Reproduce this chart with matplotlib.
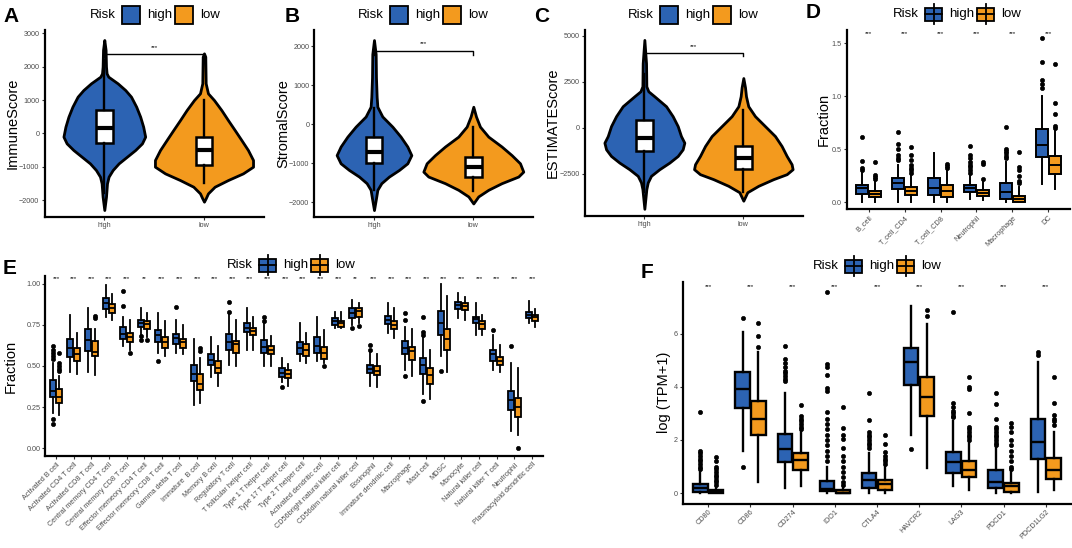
import numpy as np
import matplotlib
matplotlib.use("Agg")
from matplotlib import pyplot as plt
from matplotlib.patches import Rectangle

plt.rcParams['font.family'] = ['Liberation Sans', 'DejaVu Sans']

W, H = 1072, 548
BLUE = '#2C63B3'
ORANGE = '#F39A1E'
groups = ['high', 'low']

# ---- panel A-C: violin outlines (value, half width in category units) ----
immune_high_y = [2800, 2500, 2000, 1800, 1700, 1500, 1300, 1100, 800, 500, 200, -100, -300, -500, -700, -900, -1100, -1300, -1500, -1900, -2300]
immune_high_w = [0, .013, .017, .023, .04, .134, .21, .268, .32, .36, .39, .41, .378, .31, .227, .144, .084, .043, .027, .017, 0]
immune_low_y = [2400, 2300, 1500, 1200, 1000, 700, 400, 100, -200, -500, -800, -1000, -1200, -1400, -1600, -1800, -1950, -2050]
immune_low_w = [0, .013, .017, .04, .1, .174, .24, .308, .375, .441, .492, .492, .391, .241, .107, .04, .017, 0]
immune_box = dict(q1=[-300, -950], med=[150, -500], q3=[700, -100], lo=[-1800, -1500], hi=[2200, 1000])

stromal_high_y = [2160, 1800, 1200, 700, 450, 200, -60, -316, -570, -790, -1000, -1170, -1340, -1510, -1680, -1900, -2200]
stromal_high_w = [0, .017, .02, .027, .034, .084, .185, .268, .336, .376, .336, .252, .151, .074, .034, .02, 0]
stromal_low_y = [450, 200, -60, -316, -570, -790, -1000, -1214, -1340, -1510, -1680, -1850, -2030]
stromal_low_w = [0, .027, .067, .151, .285, .386, .47, .503, .453, .285, .151, .05, 0]
stromal_box = dict(q1=[-1000, -1340], med=[-700, -1100], q3=[-316, -830], lo=[-1680, -1700], hi=[410, -60])

estimate_high_y = [4770, 3500, 2250, 1980, 1710, 1170, 630, 90, -450, -810, -1170, -1530, -1890, -2250, -2610, -2970, -3330, -4400]
estimate_high_w = [0, .017, .02, .04, .101, .219, .286, .337, .37, .404, .387, .337, .253, .152, .067, .034, .02, 0]
estimate_low_y = [2700, 2200, 1710, 1170, 630, 90, -450, -990, -1530, -1980, -2250, -2520, -2790, -3150, -3500, -3960]
estimate_low_w = [0, .017, .027, .05, .118, .219, .32, .387, .438, .488, .498, .438, .303, .152, .04, 0]
estimate_box = dict(q1=[-1277, -2250], med=[-576, -1620], q3=[414, -970], lo=[-3500, -3500], hi=[2900, 950])

# ---- panel D ----
d_cats = ['B_cell', 'T_cell_CD4', 'T_cell_CD8', 'Neutrophil', 'Macrophage', 'DC']
d_high_q1 = [0.075, 0.12, 0.07, 0.10, 0.03, 0.43]
d_high_med = [0.137, 0.18, 0.13, 0.13, 0.10, 0.54]
d_high_q3 = [0.163, 0.23, 0.23, 0.165, 0.18, 0.69]
d_high_lo = [0.0, 0.0, 0.0, 0.03, 0.0, 0.17]
d_high_hi = [0.28, 0.35, 0.46, 0.26, 0.38, 1.0]
d_high_out = [[0.62, 0.39, 0.32, 0.30], [0.66, 0.55, 0.50, 0.45, 0.42, 0.40], [],
              [0.53, 0.45, 0.42, 0.38, 0.35, 0.33, 0.30, 0.28], [0.71, 0.50, 0.48, 0.46, 0.44, 0.42],
              [1.55, 1.32, 1.15, 1.12, 1.08]]
d_low_q1 = [0.05, 0.072, 0.05, 0.055, 0.0, 0.27]
d_low_med = [0.075, 0.105, 0.105, 0.09, 0.035, 0.35]
d_low_q3 = [0.11, 0.147, 0.165, 0.115, 0.06, 0.44]
d_low_lo = [0.0, 0.0, 0.0, 0.02, 0.0, 0.12]
d_low_hi = [0.20, 0.25, 0.30, 0.20, 0.14, 0.68]
d_low_out = [[0.38, 0.26, 0.24, 0.22], [0.52, 0.45, 0.40, 0.35, 0.32, 0.30, 0.28], [0.36, 0.34, 0.32],
             [0.38, 0.36, 0.22], [0.47, 0.33, 0.30, 0.25, 0.20, 0.18], [1.30, 0.94, 0.83, 0.72, 0.70]]
d_sig = ['***'] * 6

# ---- panel E ----
e_cats = ['Activated B cell', 'Activated CD4 T cell', 'Activated CD8 T cell', 'Central memory CD4 T cell',
          'Central memory CD8 T cell', 'Effector memeory CD4 T cell', 'Effector memeory CD8 T cell',
          'Gamma delta T cell', 'Immature  B cell', 'Memory B cell', 'Regulatory T cell',
          'T follicular helper cell', 'Type 1 T helper cell', 'Type 17 T helper cell', 'Type 2 T helper cell',
          'Activated dendritic cell', 'CD56bright natural killer cell', 'CD56dim natural killer cell',
          'Eosinophil', 'Immature dendritic cell', 'Macrophage', 'Mast cell', 'MDSC', 'Monocyte',
          'Natural killer cell', 'Natural killer T cell', 'Neutrophil', 'Plasmacytoid dendritic cell']
e_sig = ['***'] * 5 + ['**'] + ['***'] * 11 + ['**'] + ['***'] * 10
e_high_q1 = [0.314, 0.553, 0.591, 0.843, 0.665, 0.734, 0.644, 0.633, 0.407, 0.507, 0.600, 0.707, 0.580, 0.435,
             0.570, 0.580, 0.750, 0.790, 0.455, 0.755, 0.570, 0.449, 0.686, 0.847, 0.759, 0.532, 0.235, 0.790]
e_high_med = [0.350, 0.608, 0.660, 0.885, 0.696, 0.759, 0.686, 0.669, 0.449, 0.539, 0.644, 0.730, 0.613, 0.460,
              0.607, 0.623, 0.770, 0.822, 0.480, 0.780, 0.608, 0.507, 0.759, 0.870, 0.784, 0.570, 0.293, 0.807]
e_high_q3 = [0.413, 0.665, 0.727, 0.910, 0.738, 0.780, 0.721, 0.692, 0.507, 0.574, 0.696, 0.760, 0.655, 0.487,
             0.645, 0.675, 0.790, 0.853, 0.507, 0.805, 0.654, 0.549, 0.832, 0.889, 0.800, 0.595, 0.350, 0.826]
e_high_lo = [0.214, 0.465, 0.465, 0.800, 0.623, 0.686, 0.580, 0.580, 0.266, 0.434, 0.507, 0.600, 0.500, 0.400,
             0.530, 0.530, 0.730, 0.750, 0.380, 0.700, 0.476, 0.330, 0.560, 0.790, 0.690, 0.476, 0.105, 0.759]
e_high_hi = [0.520, 0.811, 0.850, 0.990, 0.800, 0.853, 0.820, 0.780, 0.665, 0.675, 0.820, 0.850, 0.760, 0.550,
             0.760, 0.800, 0.830, 0.900, 0.590, 0.885, 0.738, 0.675, 1.000, 0.943, 0.885, 0.686, 0.518, 0.895]
e_high_out = [[0.62, 0.60, 0.58, 0.56, 0.54, 0.18, 0.15], [], [], [], [0.958, 0.864], [0.68, 0.66], [0.532],
              [0.86], [], [], [0.89, 0.83], [], [0.80, 0.77], [0.37], [], [], [], [0.73], [0.63, 0.60], [],
              [0.82, 0.78, 0.438], [0.797, 0.706, 0.686, 0.287], [0.47], [], [], [0.72], [0.62], []]
e_low_q1 = [0.277, 0.528, 0.560, 0.822, 0.644, 0.727, 0.608, 0.612, 0.356, 0.455, 0.580, 0.686, 0.570, 0.425,
            0.560, 0.540, 0.734, 0.800, 0.444, 0.727, 0.535, 0.392, 0.597, 0.838, 0.727, 0.507, 0.189, 0.776]
e_low_med = [0.310, 0.574, 0.587, 0.850, 0.675, 0.753, 0.644, 0.644, 0.392, 0.490, 0.633, 0.710, 0.600, 0.450,
             0.600, 0.580, 0.760, 0.833, 0.470, 0.748, 0.590, 0.444, 0.665, 0.864, 0.755, 0.532, 0.250, 0.795]
e_low_q3 = [0.360, 0.608, 0.654, 0.874, 0.700, 0.774, 0.675, 0.665, 0.449, 0.532, 0.654, 0.728, 0.620, 0.477,
            0.634, 0.613, 0.776, 0.853, 0.497, 0.774, 0.616, 0.486, 0.727, 0.880, 0.775, 0.553, 0.308, 0.811]
e_low_lo = [0.200, 0.450, 0.444, 0.780, 0.600, 0.675, 0.560, 0.570, 0.277, 0.380, 0.497, 0.600, 0.500, 0.380,
            0.520, 0.520, 0.730, 0.760, 0.370, 0.669, 0.440, 0.300, 0.465, 0.780, 0.686, 0.465, 0.084, 0.738]
e_low_hi = [0.440, 0.700, 0.727, 0.937, 0.780, 0.820, 0.770, 0.748, 0.550, 0.623, 0.780, 0.800, 0.680, 0.510,
            0.700, 0.720, 0.830, 0.880, 0.570, 0.853, 0.727, 0.600, 0.927, 0.920, 0.810, 0.627, 0.486, 0.843]
e_low_out = [[0.58, 0.52, 0.50, 0.48, 0.47], [], [0.805, 0.79], [], [0.58], [0.66], [], [], [0.61, 0.59], [], [],
             [], [], [], [], [0.50], [], [0.74], [], [], [], [], [], [], [], [], [0.0], []]

# ---- panel F ----
f_cats = ['CD80', 'CD86', 'CD274', 'IDO1', 'CTLA4', 'HAVCR2', 'LAG3', 'PDCD1', 'PDCD1LG2']
f_sig = ['***'] * 9
f_high_q1 = [0.03, 3.22, 1.17, 0.09, 0.20, 4.05, 0.77, 0.20, 1.28]
f_high_med = [0.20, 3.92, 1.66, 0.15, 0.50, 4.93, 1.17, 0.42, 1.94]
f_high_q3 = [0.35, 4.56, 2.23, 0.47, 0.75, 5.45, 1.56, 0.86, 2.80]
f_high_lo = [0.0, 1.60, 0.20, 0.0, 0.0, 2.20, 0.25, 0.0, 0.05]
f_high_hi = [0.80, 6.05, 3.75, 1.00, 1.50, 7.05, 2.70, 1.70, 4.95]
f_high_out = [[3.05, 1.6, 1.5, 1.4, 1.3, 1.2, 1.1, 1.0, 0.9], [6.6, 1.0],
              [5.55, 5.05, 4.9, 4.75, 4.6, 4.5, 4.4, 4.3, 4.2],
              [7.55, 4.85, 4.75, 4.45, 3.95, 3.85, 3.05, 2.8, 2.6, 2.4, 2.2, 2.0, 1.8, 1.6, 1.4, 1.2],
              [3.75, 2.75, 2.3, 2.2, 2.1, 2.0, 1.9, 1.8, 1.7], [1.65], [6.8, 3.4, 3.25, 3.1, 3.0, 2.9, 2.85],
              [3.75, 3.35, 2.8, 2.5, 2.4, 2.3, 2.2, 2.1, 2.0, 1.9, 1.8], [5.3, 5.2]]
f_low_q1 = [0.0, 2.17, 0.86, 0.0, 0.10, 2.90, 0.60, 0.06, 0.54]
f_low_med = [0.03, 2.80, 1.24, 0.02, 0.35, 3.60, 0.86, 0.26, 0.86]
f_low_q3 = [0.10, 3.45, 1.50, 0.10, 0.48, 4.37, 1.20, 0.37, 1.33]
f_low_lo = [0.0, 0.43, 0.25, 0.0, 0.0, 0.95, 0.10, 0.0, 0.13]
f_low_hi = [0.25, 5.30, 2.30, 0.25, 1.00, 6.35, 1.90, 0.80, 2.30]
f_low_out = [[1.35, 1.2, 1.0, 0.9, 0.8, 0.7, 0.6, 0.5, 0.4, 0.3], [6.4, 5.9, 5.5], [3.3, 2.9, 2.8, 2.7, 2.6, 2.5, 2.4],
             [3.25, 2.45, 2.2, 2.05, 1.7, 1.4, 1.2, 1.0, 0.8, 0.6, 0.4, 0.3], [2.2, 1.85, 1.55, 1.4, 1.3, 1.2, 1.1],
             [6.9, 6.65], [4.35, 4.0, 3.9, 3.0, 2.5, 2.4, 2.3, 2.2, 2.1, 2.0],
             [2.65, 2.5, 2.3, 2.0, 1.8, 1.6, 1.4, 1.2, 1.0, 0.9], [4.35, 3.4, 2.95, 2.8, 2.7, 2.55]]


fig = plt.figure(figsize=(W / 100, H / 100), dpi=100)


def add_ax(l, t, r, b):
    return fig.add_axes([l / W, 1 - b / H, (r - l) / W, (b - t) / H])


def style(ax, ylabel, label_x, l, r, size=10.5):
    for s in ['top', 'right']:
        ax.spines[s].set_visible(False)
    for s in ['left', 'bottom']:
        ax.spines[s].set_linewidth(1.6)
    ax.tick_params(length=2.2, width=0.8, color='#333333', labelsize=5.2, labelcolor='#4d4d4d', pad=1.5)
    ax.set_ylabel(ylabel, fontsize=size)
    ax.yaxis.label.set_verticalalignment('center')
    ax.yaxis.set_label_coords((label_x - l) / (r - l), 0.5)


def make_stats(q1, med, q3, lo, hi, out=None):
    return [dict(q1=q1[i], med=med[i], q3=q3[i], whislo=lo[i], whishi=hi[i],
                 fliers=(out[i] if out else [])) for i in range(len(q1))]


def violin_panel(rect, profiles, box, ylim, ticks, ylabel, label_x, bracket):
    ax = add_ax(*rect)
    for i, (ys, ws) in enumerate(profiles):
        ys = np.array(ys)
        ws = np.array(ws)
        ax.fill_betweenx(ys, i + 1 - ws, i + 1 + ws, facecolor=[BLUE, ORANGE][i],
                         edgecolor='black', linewidth=2.0, zorder=2)
    stats = make_stats(box['q1'], box['med'], box['q3'], box['lo'], box['hi'])
    ax.bxp(stats, positions=[1, 2], widths=0.17, patch_artist=True, showcaps=False, showfliers=False,
           manage_ticks=False, zorder=3,
           boxprops=dict(facecolor='white', edgecolor='black', linewidth=1.8),
           medianprops=dict(color='black', linewidth=3),
           whiskerprops=dict(color='black', linewidth=1.7))
    top, tip, star = bracket
    ax.plot([1, 1, 2, 2], [tip, top, top, tip], color='black', linewidth=1.0, zorder=4)
    ax.text(1.5, star, '***', ha='center', va='center', fontsize=4.5)
    ax.set_xlim(0.4, 2.6)
    ax.set_ylim(*ylim)
    ax.set_xticks([1, 2])
    ax.set_xticklabels(groups)
    ax.set_yticks(ticks)
    style(ax, ylabel, label_x, rect[0], rect[2])
    return ax


def box_panel(rect, cats, hs, ls, ylim, ticks, ticklabels, ylabel, label_x, sig, sig_y, lw, xsize):
    ax = add_ax(*rect)
    x = np.arange(len(cats)) + 1
    for stats, off, col in [(hs, -0.1875, BLUE), (ls, 0.1875, ORANGE)]:
        ax.bxp(stats, positions=x + off, widths=0.34, patch_artist=True, showcaps=False, manage_ticks=False,
               boxprops=dict(facecolor=col, edgecolor='black', linewidth=lw),
               medianprops=dict(color='black', linewidth=lw),
               whiskerprops=dict(color='black', linewidth=lw),
               flierprops=dict(marker='o', markerfacecolor='black', markeredgecolor='black',
                               markersize=3.0, markeredgewidth=0.5))
    for xi, s in zip(x, sig):
        ax.text(xi, sig_y, s, ha='center', va='center', fontsize=4.5)
    ax.set_xlim(0.4, len(cats) + 0.6)
    ax.set_ylim(*ylim)
    ax.set_xticks(x)
    ax.set_xticklabels(cats, rotation=45, ha='right', va='top', rotation_mode='anchor', fontsize=xsize)
    ax.set_yticks(ticks)
    ax.set_yticklabels(ticklabels)
    style(ax, ylabel, label_x, rect[0], rect[2])
    return ax


violin_panel((44.5, 30, 263.8, 216.7),
             [(immune_high_y, immune_high_w), (immune_low_y, immune_low_w)], immune_box,
             (-2500, 3100), [-2000, -1000, 0, 1000, 2000, 3000], 'ImmuneScore', 13, (2380, 2300, 2560))
violin_panel((314.4, 30, 532.9, 217),
             [(stromal_high_y, stromal_high_w), (stromal_low_y, stromal_low_w)], stromal_box,
             (-2377, 2418), [-2000, -1000, 0, 1000, 2000], 'StromalScore', 283, (1890, 1780, 2060))
violin_panel((585, 30, 802.7, 216),
             [(estimate_high_y, estimate_high_w), (estimate_low_y, estimate_low_w)], estimate_box,
             (-4790, 5308), [-2500, 0, 2500, 5000], 'ESTIMATEScore', 553, (4080, 3870, 4420))

box_panel((847, 30, 1070, 209), d_cats,
          make_stats(d_high_q1, d_high_med, d_high_q3, d_high_lo, d_high_hi, d_high_out),
          make_stats(d_low_q1, d_low_med, d_low_q3, d_low_lo, d_low_hi, d_low_out),
          (-0.064, 1.625), [0, 0.5, 1.0, 1.5], ['0.0', '0.5', '1.0', '1.5'], 'Fraction', 824,
          d_sig, 1.59, 1.4, 5.4)
box_panel((45.4, 276, 542.6, 456), e_cats,
          make_stats(e_high_q1, e_high_med, e_high_q3, e_high_lo, e_high_hi, e_high_out),
          make_stats(e_low_q1, e_low_med, e_low_q3, e_low_lo, e_low_hi, e_low_out),
          (-0.046, 1.046), [0, 0.25, 0.5, 0.75, 1.0], ['0.00', '0.25', '0.50', '0.75', '1.00'], 'Fraction', 11,
          e_sig, 1.03, 1.3, 5.8)
box_panel((683, 282, 1071, 503.5), f_cats,
          make_stats(f_high_q1, f_high_med, f_high_q3, f_high_lo, f_high_hi, f_high_out),
          make_stats(f_low_q1, f_low_med, f_low_q3, f_low_lo, f_low_hi, f_low_out),
          (-0.39, 7.94), [0, 2, 4, 6], ['0', '2', '4', '6'], 'log (TPM+1)', 664,
          f_sig, 7.78, 1.7, 6.1)

# overlay for panel letters and legends (pixel coordinates)
ov = fig.add_axes([0, 0, 1, 1], facecolor='none')
ov.set_xlim(0, W)
ov.set_ylim(H, 0)
ov.axis('off')

for letter, lx, ly in [('A', 3, 16), ('B', 285, 16), ('C', 534, 16), ('D', 806, 13), ('E', 3, 268), ('F', 641, 272)]:
    ov.text(lx, ly, letter, fontsize=15, fontweight='bold', ha='left', va='center')


def legend(x, y, glyph):
    ov.text(x, y, 'Risk', fontsize=9.5, ha='left', va='center')
    gx = x + 32
    for lab, col in zip(groups, [BLUE, ORANGE]):
        if glyph == 'square':
            ov.add_patch(Rectangle((gx, y - 9), 18, 18, facecolor=col, edgecolor='black', linewidth=1.3))
            tx = gx + 25
        else:
            ov.plot([gx + 8.5, gx + 8.5], [y - 10, y + 10], color='black', linewidth=1.3)
            ov.add_patch(Rectangle((gx, y - 6.5), 17, 13, facecolor=col, edgecolor='black', linewidth=1.3))
            ov.plot([gx, gx + 17], [y, y], color='black', linewidth=1.3)
            tx = gx + 24
        ov.text(tx, y, lab, fontsize=9.5, ha='left', va='center')
        gx = tx + (28 if lab == 'high' else 0)


legend(90, 15, 'square')
legend(358, 15, 'square')
legend(628, 15, 'square')
legend(893, 14, 'box')
legend(227, 265, 'box')
legend(813, 266, 'box')

fig.savefig('out.png', dpi=100)
